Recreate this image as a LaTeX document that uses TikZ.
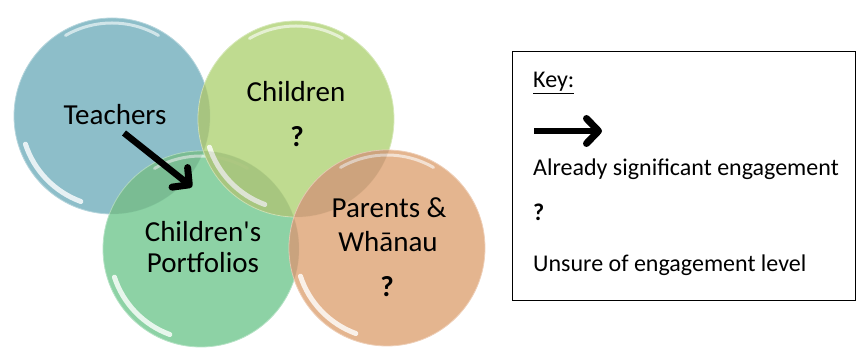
\documentclass[tikz,border=0pt]{standalone}
\usepackage{fontspec}
\setmainfont{Carlito}
\usetikzlibrary{arrows.meta}
\definecolor{tblue}{HTML}{84B9C5}
\definecolor{cgreen}{HTML}{BAD888}
\definecolor{pgreen}{HTML}{84CF9E}
\definecolor{porange}{HTML}{E2AF87}
\tikzset{
  bubble/.style={circle, inner sep=0pt, minimum size=196pt, fill=#1, fill opacity=0.93, draw=#1!60!white, line width=0.8pt},
  big/.style={font=\fontsize{29}{31}\selectfont, inner sep=0pt, anchor=base},
  qmark/.style={font=\fontsize{29}{31}\selectfont\bfseries, inner sep=0pt, anchor=base},
  keytext/.style={font=\fontsize{24}{26}\selectfont, inner sep=0pt, anchor=base west},
  engage/.style={line width=6.5pt, -{Straight Barb[length=12pt, width=25pt, line width=7pt, round]}},
}
% glassy highlights along the rim of a bubble
\newcommand{\gloss}[1]{%
  \draw[white, line width=3pt, opacity=0.6, line cap=round]
    ([shift={(60:93pt)}]#1.center) arc[start angle=60, end angle=120, radius=93pt];
  \draw[white, line width=5pt, opacity=0.8, line cap=round]
    ([shift={(198:91pt)}]#1.center) arc[start angle=198, end angle=250, radius=91pt];
}
% soft darkening where two bubbles overlap
\newcommand{\lens}[2]{%
  \begin{scope}
    \clip (#1.center) circle (98pt);
    \fill[black, opacity=0.08] (#2.center) circle (98pt);
  \end{scope}
}
\begin{document}
\begin{tikzpicture}[x=1pt, y=1pt]
\useasboundingbox (0,0) rectangle (857,350);

% the four bubbles
\node[bubble=tblue]   (teach) at (112,234) {};
\gloss{teach}
\node[bubble=pgreen]  (port)  at (201,101) {};
\gloss{port}
\node[bubble=cgreen]  (child) at (296,231) {};
\gloss{child}
\node[bubble=porange] (par)   at (387,102) {};
\gloss{par}

\lens{teach}{port}
\lens{child}{port}
\lens{child}{par}
\lens{port}{par}
\lens{teach}{child}

% labels inside the bubbles
\node[big] (lteach) at (115,225) {Teachers};
\node[big] (lchild) at (296,248) {Children};
\node[qmark] (qchild) at (297,203) {?};
\node[big] (lport1) at (203,108) {Children\textquotesingle s};
\node[big] (lport2) at (203,77) {Portfolios};
\node[big] (lpar1) at (389,132) {Parents \&};
\node[big] (lpar2) at (388,98) {Whānau};
\node[qmark] (qpar) at (387,53) {?};

% engagement arrow from teachers to portfolios
\coordinate (atail) at (124,217);
\coordinate (ahead) at (192,163);
\draw[engage] (atail) -- (ahead);

% key
\node[draw, line width=1.2pt, minimum width=343pt, minimum height=249pt, anchor=south west, inner sep=0pt] (keybox) at (512,49) {};
\node[keytext] (keyt) at (533,262) {\underline{Key:}};
\coordinate (ktail) at (534,219);
\coordinate (khead) at (602,219);
\draw[engage] (ktail) -- (khead);
\node[keytext] (k1) at (533,174) {Already significant engagement};
\node[keytext, font=\fontsize{24}{26}\selectfont\bfseries] (k2) at (533,129) {?};
\node[keytext] (k3) at (533,78) {Unsure of engagement level};
\end{tikzpicture}
\end{document}
